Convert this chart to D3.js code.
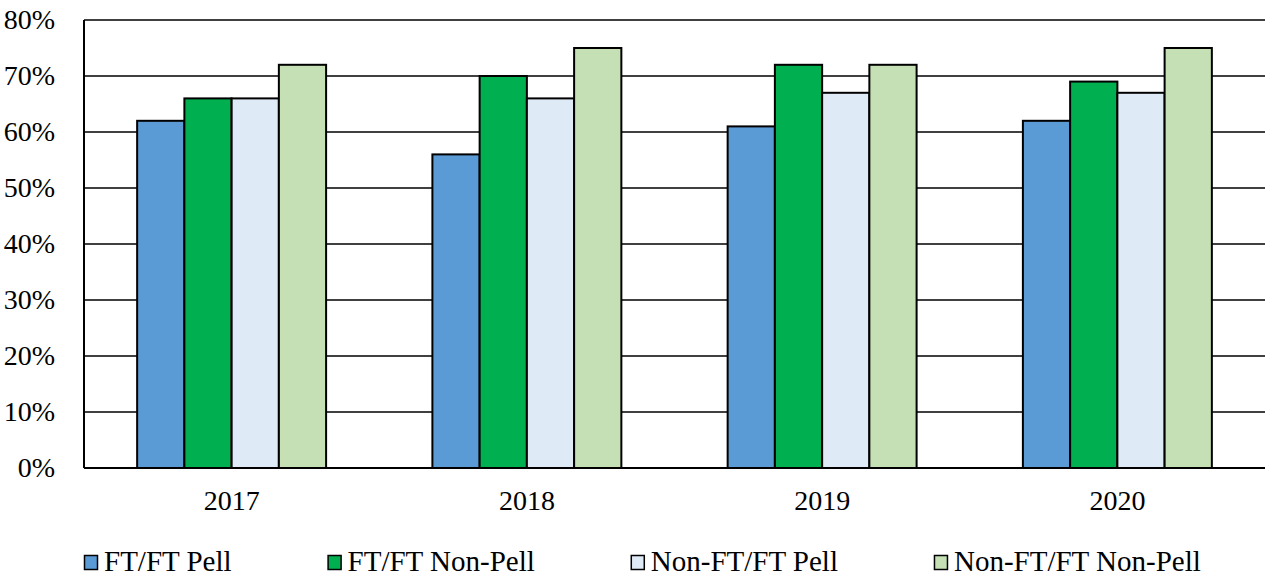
<!DOCTYPE html>
<html>
<head>
<meta charset="utf-8">
<script src="https://cdn.jsdelivr.net/npm/d3@7/dist/d3.min.js"></script>
<style>
  body { margin: 0; background: #fff; }
  text { font-family: "Liberation Serif", "Times New Roman", serif; fill: #000; }
</style>
</head>
<body>
<svg id="chart" width="1265" height="577"></svg>
<script>
// chart data
var years = ["2017", "2018", "2019", "2020"];
var seriesNames = ["FT/FT Pell", "FT/FT Non-Pell", "Non-FT/FT Pell", "Non-FT/FT Non-Pell"];
var ftPell = [62, 56, 61, 62];
var ftNonPell = [66, 70, 72, 69];
var nonFtPell = [66, 66, 67, 67];
var nonFtNonPell = [72, 75, 72, 75];
var yTicks = [0, 10, 20, 30, 40, 50, 60, 70, 80];
var colors = ["#5B9BD5", "#00B050", "#DEEAF6", "#C5E0B4"];

var seriesValues = [ftPell, ftNonPell, nonFtPell, nonFtNonPell];

var margin = { top: 20, right: 0, bottom: 109, left: 84 };
var svg = d3.select("#chart");
var width = +svg.attr("width") - margin.left - margin.right;
var height = +svg.attr("height") - margin.top - margin.bottom;
var g = svg.append("g").attr("transform", "translate(" + margin.left + "," + margin.top + ")");

var x0 = d3.scaleBand().domain(years).range([0, width]).paddingInner(0.36).paddingOuter(0.18);
var x1 = d3.scaleBand().domain(seriesNames).range([0, x0.bandwidth()]);
var y = d3.scaleLinear().domain([0, 80]).range([height, 0]);

// gridlines
g.append("g")
    .selectAll("line")
    .data(yTicks.slice(1))
    .enter().append("line")
    .attr("x1", 0)
    .attr("x2", width)
    .attr("y1", function (d) { return y(d); })
    .attr("y2", function (d) { return y(d); })
    .attr("stroke", "#000")
    .attr("stroke-width", 1.5);

// y axis labels
var yAxis = d3.axisLeft(y).tickValues(yTicks).tickSize(0).tickPadding(29)
    .tickFormat(function (d) { return d + "%"; });
g.append("g").call(yAxis)
    .call(function (a) { a.select(".domain").remove(); })
    .selectAll("text")
    .style("font-size", "28px")
    .style("font-family", "Liberation Serif, serif")
    .attr("fill", "#000");

// bars
var rows = years.map(function (yr, i) {
    return { year: yr, values: seriesNames.map(function (s, j) { return { name: s, value: seriesValues[j][i], idx: j }; }) };
});
var grp = g.selectAll(".year")
    .data(rows)
    .enter().append("g")
    .attr("class", "year")
    .attr("transform", function (d) { return "translate(" + x0(d.year) + ",0)"; });
grp.selectAll("rect")
    .data(function (d) { return d.values; })
    .enter().append("rect")
    .attr("x", function (d) { return x1(d.name); })
    .attr("y", function (d) { return y(d.value); })
    .attr("width", x1.bandwidth())
    .attr("height", function (d) { return height - y(d.value); })
    .attr("fill", function (d) { return colors[d.idx]; })
    .attr("stroke", "#000")
    .attr("stroke-width", 2);

// x axis
var xAxis = d3.axisBottom(x0).tickSize(0).tickPadding(22);
var xg = g.append("g").attr("transform", "translate(0," + height + ")").call(xAxis);
xg.select(".domain").remove();
xg.selectAll("text")
    .style("font-size", "28px")
    .style("font-family", "Liberation Serif, serif")
    .attr("fill", "#000");
g.append("line").attr("x1", 0).attr("x2", width).attr("y1", height).attr("y2", height)
    .attr("stroke", "#000").attr("stroke-width", 2);
g.append("line").attr("x1", 0).attr("x2", 0).attr("y1", 0).attr("y2", height)
    .attr("stroke", "#000").attr("stroke-width", 2);

// legend
var legend = svg.append("g").attr("transform", "translate(84,555)");
var lx = 0;
seriesNames.forEach(function (name, i) {
    var item = legend.append("g").attr("transform", "translate(" + lx + ",0)");
    item.append("rect")
        .attr("x", 0.5).attr("y", 0.5)
        .attr("width", 13).attr("height", 14)
        .attr("fill", colors[i])
        .attr("stroke", "#000")
        .attr("stroke-width", 1.5);
    var t = item.append("text")
        .attr("x", 20)
        .attr("y", 16)
        .style("font-size", "29px")
        .text(name);
    lx += 20 + t.node().getComputedTextLength() + 96;
});
</script>
</body>
</html>
